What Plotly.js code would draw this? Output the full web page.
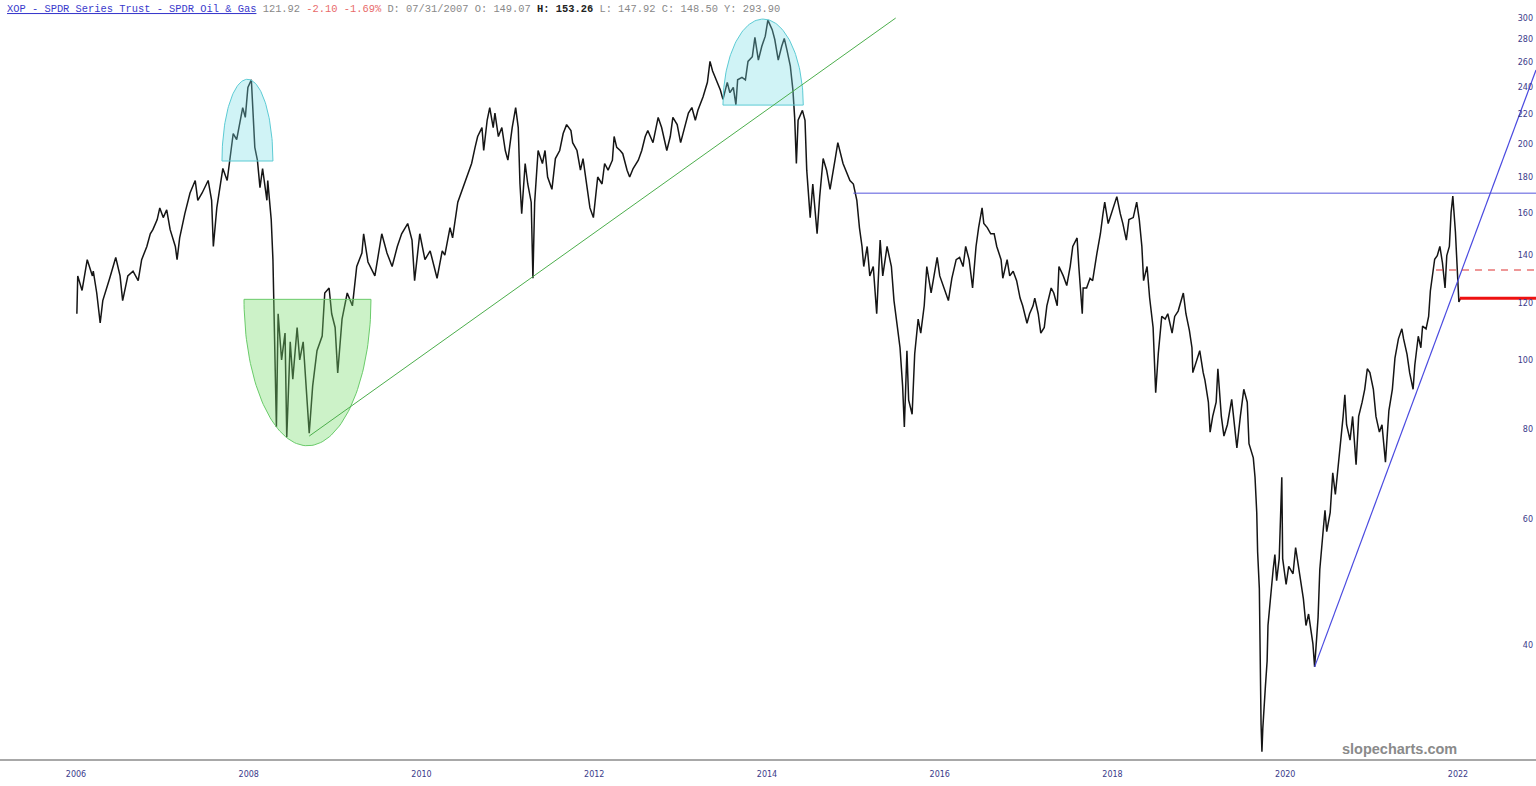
<!DOCTYPE html>
<html><head><meta charset="utf-8">
<script src="https://cdn.plot.ly/plotly-3.0.1.min.js"></script>
<style>html,body{margin:0;padding:0;background:#fff;overflow:hidden}#chart{width:1536px;height:786px}</style>
</head><body><div id="chart"></div>
<script>
// Price series (x = year position as labelled on the chart)
const years = [
2006.01,2006.02,2006.07,2006.13,2006.19,2006.20,2006.24,2006.28,2006.31,2006.36,2006.39,2006.46,2006.51,2006.54,2006.60,2006.66,2006.72,2006.76,2006.82,2006.86,2006.89,2006.94,2006.97,
2007.01,2007.05,2007.09,2007.15,2007.17,2007.20,2007.26,2007.32,2007.38,2007.41,2007.46,2007.49,2007.53,2007.57,2007.59,2007.63,2007.67,2007.70,2007.75,2007.78,2007.82,2007.86,2007.90,2007.93,2007.96,2007.99,
2008.03,2008.05,2008.07,2008.10,2008.13,2008.16,2008.21,2008.22,2008.26,2008.28,2008.29,2008.30,2008.32,2008.34,2008.38,2008.42,2008.44,2008.48,2008.51,2008.56,2008.59,2008.63,2008.67,2008.70,2008.74,2008.79,2008.85,2008.88,2008.93,2008.96,
2009.00,2009.03,2009.08,2009.14,2009.20,2009.25,2009.31,2009.33,2009.38,2009.46,2009.54,2009.60,2009.66,2009.72,2009.77,2009.84,2009.89,2009.92,2009.98,
2010.04,2010.10,2010.18,2010.24,2010.27,2010.33,2010.36,2010.42,2010.48,2010.54,2010.58,2010.62,2010.65,2010.70,2010.72,2010.76,2010.79,2010.83,2010.85,2010.89,2010.93,2010.97,
2011.00,2011.05,2011.09,2011.12,2011.14,2011.16,2011.20,2011.23,2011.27,2011.29,2011.31,2011.35,2011.40,2011.43,2011.46,2011.51,2011.55,2011.60,2011.64,2011.68,2011.73,2011.75,2011.80,2011.84,2011.87,2011.92,2011.95,2011.99,
2012.01,2012.04,2012.09,2012.12,2012.16,2012.21,2012.23,2012.26,2012.30,2012.33,2012.38,2012.41,2012.45,2012.51,2012.55,2012.59,2012.62,2012.68,2012.74,2012.78,2012.84,2012.88,2012.91,2012.96,
2013.00,2013.05,2013.09,2013.13,2013.17,2013.20,2013.26,2013.31,2013.34,2013.37,2013.42,2013.46,2013.49,2013.54,2013.57,2013.61,2013.64,2013.66,2013.71,2013.75,2013.78,2013.83,2013.86,2013.90,2013.94,2013.98,
2014.01,2014.06,2014.09,2014.13,2014.17,2014.20,2014.23,2014.27,2014.30,2014.32,2014.34,2014.36,2014.41,2014.44,2014.46,2014.50,2014.53,2014.58,2014.61,2014.65,2014.69,2014.73,2014.79,2014.82,2014.88,2014.93,2014.96,
2015.00,2015.04,2015.07,2015.10,2015.12,2015.16,2015.19,2015.23,2015.27,2015.31,2015.34,2015.39,2015.44,2015.47,2015.51,2015.54,2015.57,2015.59,2015.62,2015.64,2015.68,2015.71,2015.75,2015.78,2015.82,2015.85,2015.90,2015.93,2015.97,
2016.00,2016.05,2016.10,2016.14,2016.19,2016.23,2016.27,2016.30,2016.34,2016.38,2016.42,2016.45,2016.49,2016.51,2016.55,2016.59,2016.63,2016.66,2016.71,2016.73,2016.78,2016.81,2016.85,2016.89,2016.93,2016.96,
2017.01,2017.04,2017.08,2017.10,2017.14,2017.17,2017.21,2017.24,2017.29,2017.32,2017.36,2017.38,2017.43,2017.47,2017.51,2017.54,2017.59,2017.61,2017.65,2017.66,2017.70,2017.74,2017.77,2017.82,2017.86,2017.89,2017.91,2017.95,2017.99,
2018.03,2018.05,2018.09,2018.12,2018.16,2018.19,2018.24,2018.28,2018.31,2018.34,2018.36,2018.40,2018.43,2018.47,2018.50,2018.53,2018.57,2018.61,2018.64,2018.69,2018.72,2018.76,2018.82,2018.85,2018.89,2018.92,2018.93,2018.98,
2019.01,2019.05,2019.07,2019.11,2019.13,2019.16,2019.20,2019.22,2019.26,2019.29,2019.33,2019.38,2019.41,2019.44,2019.48,2019.52,2019.56,2019.58,2019.63,2019.65,2019.67,2019.68,2019.70,2019.71,2019.72,2019.73,2019.74,2019.77,2019.79,2019.80,2019.82,2019.86,2019.88,2019.90,2019.93,2019.96,2019.97,
2020.01,2020.04,2020.09,2020.12,2020.16,2020.21,2020.24,2020.27,2020.32,2020.34,2020.38,2020.40,2020.44,2020.46,2020.48,2020.52,2020.55,2020.58,2020.60,2020.63,2020.67,2020.69,2020.71,2020.75,2020.78,2020.82,2020.85,2020.89,2020.92,2020.95,2020.98,
2021.02,2021.05,2021.09,2021.12,2021.16,2021.18,2021.20,2021.24,2021.27,2021.31,2021.35,2021.37,2021.41,2021.44,2021.48,2021.50,2021.54,2021.57,2021.59,2021.63,2021.66,2021.68,2021.71,2021.73,2021.76,2021.79,2021.82,2021.85,2021.87,2021.90,2021.92,2021.94,2021.97,2021.99,
2022.00,2022.01,2022.03
];
const prices = [
116,131,125,138,131,133,124,112.6,121,126,130,139,131,121,131,133,129,138,144,150,152,157,163,
158,162,152,144,138,148,160,171,178,167,171,174,178,167,144,163,174,185,178,190,207,203,216,225,218,240,
246,225,198,190,174,185,167,178,157,138,121,100,80.6,116,100,109,78,106,94,111,100,106,91,79,92,103,108,124,126,116,
111,95.9,114,124,119,135,141,150,137,131,150,141,135,144,150,155,147,129,150,
138,142,130,142,140,153,148,166,174,182,188,198,205,211,196,216,225,211,221,205,211,196,
190,211,225,211,176,160,188,176,166,130,166,196,188,196,180,173,191,196,207,213,209,201,196,184,191,173,163,158,
166,180,176,188,184,190,205,198,196,194,184,180,185,190,196,205,209,201,218,211,196,205,218,213,
201,213,221,225,216,223,233,244,261,253,244,238,231,244,236,240,227,246,248,246,261,265,282,262,274,283,
298,289,280,262,274,281,271,257,238,218,188,216,223,216,184,158,176,150,169,191,184,173,191,201,188,182,178,
176,167,153,144,135,144,131,135,116,147,131,144,135,121,111,104,92,80.6,103,87.9,84,102,114,109,119,135,124,130,139,
131,126,121,130,138,139,135,144,138,126,144,153,163,155,153,150,150,144,138,130,138,131,133,129,122,119,
112.5,116,119,122,116,109,111,119,126,124,119,135,131,127,135,144,148,135,116,126,126,130,129,141,150,160,166,155,160,
166,169,160,155,147,157,158,166,157,144,129,135,122,111,90,102,115,114,116,109,115,117,124,116,110,104,96,100.6,
103,96,93.7,87.3,79.3,83.4,87.3,97.2,83.4,78.3,81.2,88.1,82.3,75.4,83.4,91,87.3,76.4,73,68.6,61.2,54,48,36.9,31,28.4,30.6,35,38,42.6,45.7,51,53.5,49.2,52.8,68.6,52.8,
48.6,51.5,50.3,54.7,51,46.4,42.6,44.2,40.2,37.3,43.7,51,58,61.7,57.6,61.2,69.6,64.9,68.6,73.9,83.4,89.4,81.2,77.3,83.4,71.4,83.4,87.3,91,97.2,96,
91,83.4,79.3,81.2,72,79.3,85,91,100.6,107,110.5,107,101.8,96,91,98.4,107.9,104,111.5,110.5,115,124.8,132.5,138.2,139.8,144,136.6,126,139.8,144,160.6,169.3,151,136.6,
126,120.5,121.92
];

// Axis ticks
const xTicks = [2006,2008,2010,2012,2014,2016,2018,2020,2022];
const xTickLabels = ['2006','2008','2010','2012','2014','2016','2018','2020','2022'];
const yTicks = [40,60,80,100,120,140,160,180,200,220,240,260,280,300];
const yTickLabels = ['40','60','80','100','120','140','160','180','200','220','240','260','280','300'];

// Drawn annotations (values on the chart's axes)
const topDome2008 = [2007.69, 2008.28, 189.5, 246.4];   // x from, x to, base price, peak price
const topDome2014 = [2013.49, 2014.42, 226.8, 299.0];
const bottomBowl2008 = [2007.945, 2009.415, 121.5, 75.9]; // x from, x to, rim price, bottom price
const greenTrendX = [2008.70, 2015.49];
const greenTrendY = [78.3, 300];
const blueTrendX = [2020.34, 2022.903];
const blueTrendY = [37.3, 253.8];
const resistanceLevel = 170.9, resistanceFrom = 2015.00;
const dashedLevel = 133.5, dashedFrom = 2021.745;
const lastLevel = 121.92, lastFrom = 2022.02;

const xRange = [2005.12, 2022.903];
const yRange = [27.74, 317.9];

function halfEllipse(p) {
  const xs = [], ys = [];
  const cx = (p[0] + p[1]) / 2, rx = (p[1] - p[0]) / 2;
  const lb = Math.log10(p[2]), ry = Math.log10(p[3]) - lb;
  for (let i = 0; i <= 90; i++) {
    const t = Math.PI * i / 90;
    xs.push(cx + rx * Math.cos(t));
    ys.push(Math.pow(10, lb + ry * Math.sin(t)));
  }
  xs.push(xs[0]); ys.push(ys[0]);
  return {xs, ys};
}

const d1 = halfEllipse(topDome2008), d2 = halfEllipse(topDome2014), b1 = halfEllipse(bottomBowl2008);

const traces = [
  {x: years, y: prices, type: 'scatter', mode: 'lines', line: {color: '#151515', width: 1.5}, hoverinfo: 'x+y'},
  {x: d1.xs, y: d1.ys, type: 'scatter', mode: 'lines', fill: 'toself', fillcolor: 'rgba(120,220,230,0.35)', line: {color: '#5ccbd4', width: 1}, hoverinfo: 'skip'},
  {x: d2.xs, y: d2.ys, type: 'scatter', mode: 'lines', fill: 'toself', fillcolor: 'rgba(120,220,230,0.35)', line: {color: '#5ccbd4', width: 1}, hoverinfo: 'skip'},
  {x: b1.xs, y: b1.ys, type: 'scatter', mode: 'lines', fill: 'toself', fillcolor: 'rgba(120,220,110,0.38)', line: {color: '#6acb6a', width: 1}, hoverinfo: 'skip'},
  {x: greenTrendX, y: greenTrendY, type: 'scatter', mode: 'lines', line: {color: '#4cae4c', width: 1}, hoverinfo: 'skip'},
  {x: blueTrendX, y: blueTrendY, type: 'scatter', mode: 'lines', line: {color: '#4a4ae0', width: 1.2}, hoverinfo: 'skip'},
  {x: [resistanceFrom, xRange[1]], y: [resistanceLevel, resistanceLevel], type: 'scatter', mode: 'lines', line: {color: '#5555dd', width: 1}, hoverinfo: 'skip'},
  {x: [dashedFrom, xRange[1]], y: [dashedLevel, dashedLevel], type: 'scatter', mode: 'lines', line: {color: '#dd3030', width: 1.2, dash: '7px,6px'}, hoverinfo: 'skip'},
  {x: [lastFrom, xRange[1]], y: [lastLevel, lastLevel], type: 'scatter', mode: 'lines', line: {color: '#ee1111', width: 3}, hoverinfo: 'skip'}
];

const tickFont = {family: 'DejaVu Sans', size: 8, color: '#3a3a8a'};

const layout = {
  width: 1536, height: 786,
  margin: {l: 0, r: 0, t: 0, b: 27, pad: 0},
  paper_bgcolor: '#ffffff', plot_bgcolor: '#ffffff',
  showlegend: false,
  xaxis: {
    type: 'linear', range: xRange, tickvals: xTicks, ticktext: xTickLabels,
    showgrid: false, zeroline: false, showline: true, linecolor: '#a8a8a8', linewidth: 2,
    ticks: 'outside', ticklen: 6, tickcolor: 'rgba(0,0,0,0)', tickfont: tickFont, fixedrange: true
  },
  yaxis: {
    type: 'log', range: [Math.log10(yRange[0]), Math.log10(yRange[1])],
    tickvals: yTicks, ticktext: yTickLabels, side: 'right', ticklabelposition: 'inside',
    showgrid: false, zeroline: false, showline: false, ticks: '', tickfont: tickFont, fixedrange: true
  },
  annotations: [
    {xref: 'paper', yref: 'paper', x: 0, y: 1, xanchor: 'left', yanchor: 'top', xshift: 5, yshift: -1, showarrow: false,
     font: {family: 'Liberation Mono', size: 10.4, color: '#888888'},
     text: '<span style="color:#3a3acc;text-decoration:underline">XOP - SPDR Series Trust - SPDR Oil &amp; Gas</span> 121.92 <span style="color:#e86a6a">-2.10 -1.69%</span> D: 07/31/2007 O: 149.07 <b><span style="color:#222">H: 153.26</span></b> L: 147.92 C: 148.50 Y: 293.90'},
    {xref: 'paper', yref: 'paper', x: 1459 / 1536, y: 0.013, xanchor: 'right', yanchor: 'middle', showarrow: false,
     font: {family: 'Liberation Sans', size: 14.5, color: '#8a8a8a'}, text: '<b>slopecharts.com</b>'}
  ]
};

Plotly.newPlot('chart', traces, layout, {displayModeBar: false, staticPlot: true});
</script>
</body></html>
